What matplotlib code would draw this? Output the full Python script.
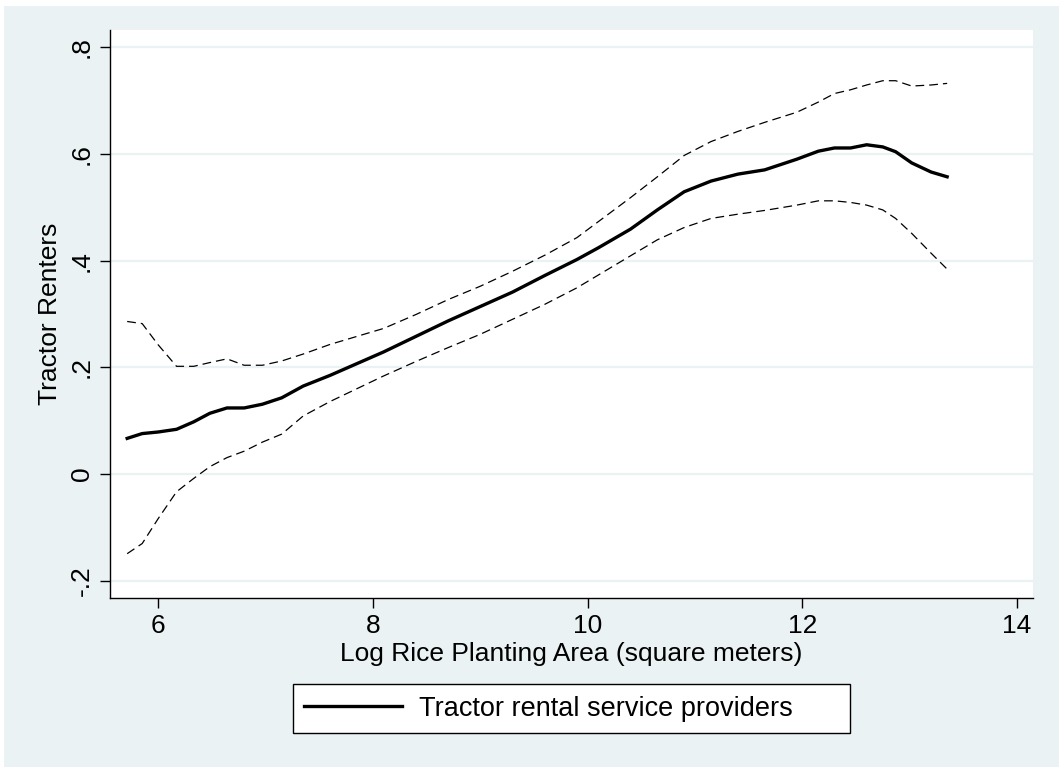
import matplotlib
matplotlib.use("Agg")
import matplotlib.pyplot as plt
from matplotlib.patches import Rectangle

plt.rcParams["font.family"] = ["Liberation Sans", "DejaVu Sans"]

# values
log_area = [5.71, 5.85, 6.0, 6.17, 6.33, 6.48, 6.64, 6.8, 6.97, 7.15, 7.35, 7.6,
            7.85, 8.1, 8.4, 8.7, 9.0, 9.3, 9.6, 9.9, 10.1, 10.4, 10.65, 10.9,
            11.15, 11.4, 11.65, 11.95, 12.15, 12.3, 12.45, 12.6, 12.75, 12.87,
            13.02, 13.2, 13.35]
renters = [0.067, 0.076, 0.079, 0.084, 0.098, 0.114, 0.124, 0.124, 0.131, 0.143,
           0.165, 0.185, 0.207, 0.229, 0.258, 0.287, 0.314, 0.341, 0.372, 0.402,
           0.424, 0.459, 0.495, 0.529, 0.549, 0.562, 0.570, 0.590, 0.605, 0.611,
           0.611, 0.617, 0.613, 0.604, 0.583, 0.566, 0.557]
upper_ci = [0.286, 0.282, 0.242, 0.202, 0.202, 0.209, 0.216, 0.204, 0.204, 0.212,
            0.225, 0.243, 0.258, 0.273, 0.299, 0.327, 0.352, 0.380, 0.410, 0.443,
            0.473, 0.518, 0.557, 0.597, 0.623, 0.642, 0.659, 0.678, 0.697, 0.713,
            0.720, 0.729, 0.737, 0.737, 0.727, 0.729, 0.732]
lower_ci = [-0.149, -0.130, -0.083, -0.033, -0.008, 0.014, 0.031, 0.043, 0.060,
            0.075, 0.109, 0.136, 0.160, 0.184, 0.211, 0.237, 0.262, 0.290, 0.318,
            0.349, 0.373, 0.409, 0.439, 0.462, 0.479, 0.487, 0.494, 0.504, 0.512,
            0.512, 0.509, 0.504, 0.495, 0.479, 0.451, 0.414, 0.384]

x_ticks = [6, 8, 10, 12, 14]
y_ticks = [-0.2, 0, 0.2, 0.4, 0.6, 0.8]
y_tick_labels = ["-.2", "0", ".2", ".4", ".6", ".8"]

W, H = 1063, 769
bg = "#eaf2f3"
fig = plt.figure(figsize=(W / 100, H / 100), dpi=100, facecolor="white")
# Stata-like graph region with a thin white margin
fig.patches.append(Rectangle((4 / W, 2 / H), 1 - 8 / W, 1 - 8 / H,
                             transform=fig.transFigure, facecolor=bg,
                             edgecolor="none", zorder=-10))

ax = fig.add_axes([110 / W, 1 - 598 / H, 923 / W, 568 / H])
ax.set_facecolor("white")

ax.plot(log_area, upper_ci, color="black", lw=0.9, ls=(0, (7, 4)))
ax.plot(log_area, lower_ci, color="black", lw=0.9, ls=(0, (7, 4)))
line, = ax.plot(log_area, renters, color="black", lw=2.4,
                label="Tractor rental service providers")

ax.set_xlim(5.55, 14.15)
ax.set_ylim(-0.232, 0.832)
ax.set_xticks(x_ticks)
ax.set_yticks(y_ticks)
ax.set_yticklabels(y_tick_labels, rotation=90, va="center")
ax.grid(axis="y", color=bg, lw=1.6)
ax.set_axisbelow(True)

for s in ["top", "right"]:
    ax.spines[s].set_visible(False)
for s in ["left", "bottom"]:
    ax.spines[s].set_linewidth(1.0)
ax.tick_params(axis="both", length=7.5, width=1.0, labelsize=19, pad=4)

ax.set_xlabel("Log Rice Planting Area (square meters)", fontsize=19, labelpad=3)
ax.set_ylabel("Tractor Renters", fontsize=19, labelpad=6)

leg = fig.legend(handles=[line], loc="center left",
                 bbox_to_anchor=(293 / W, 1 - 733 / H, 557 / W, 49 / H),
                 mode="expand", fontsize=19.5, frameon=True, fancybox=False,
                 handlelength=3.6, borderpad=0.42, borderaxespad=0,
                 handletextpad=0.62, framealpha=1)
leg.get_frame().set_edgecolor("black")
leg.get_frame().set_facecolor("white")
leg.get_frame().set_linewidth(1.0)

fig.savefig("out.png", dpi=100, facecolor=fig.get_facecolor())
